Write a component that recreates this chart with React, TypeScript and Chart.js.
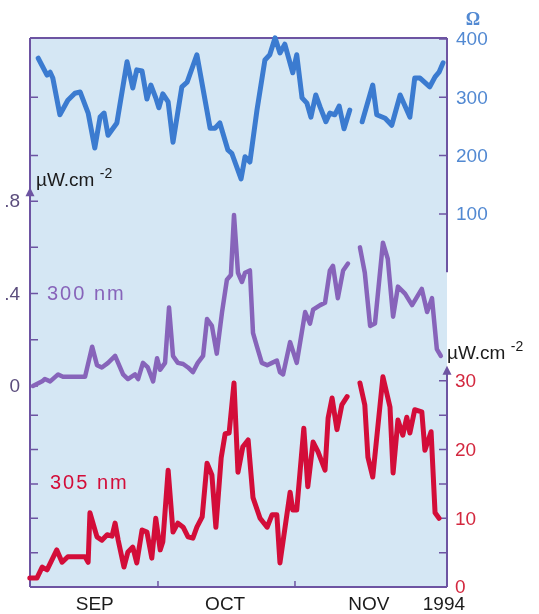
import React, { useEffect, useRef } from 'react';
import { Chart, registerables } from 'chart.js';

Chart.register(...registerables);

// x = day counted from 31 Aug (1 = 1 Sep, 31 = 1 Oct, 62 = 1 Nov)
const monthLabels = ['SEP', 'OCT', 'NOV', '1994'];
const monthLabelDays = [16.7, 46.2, 78.7, 95.7];
const monthTickDays = [31, 62];

// Total ozone (Dobson units)
const ozoneDays = [3.9, 5.9, 6.6, 7.2, 8.8, 10.6, 12.2, 13.4, 15.2, 16.7, 17.9, 18.8, 19.7, 21.7, 24.0, 25.3, 26.2, 27.4, 28.5, 29.4, 30.5, 31.2, 32.1, 33.3, 34.4, 36.4, 37.6, 39.8, 42.8, 43.9, 45.0, 46.8, 47.7, 49.8, 50.7, 51.8, 53.4, 55.2, 56.3, 57.5, 58.6, 59.7, 61.5, 62.4, 63.6, 64.7, 65.6, 66.7, 67.7, 69.0, 69.9, 71.0, 72.0, 73.1, 74.4, 75.8, 77.2, 79.6, 80.5, 82.4, 83.9, 85.8, 88.0, 89.1, 90.3, 92.5, 93.7, 94.6, 95.5];
const ozoneDU = [367, 338, 343, 333, 270, 295, 307, 309, 273, 213, 266, 273, 235, 256, 361, 316, 347, 345, 297, 321, 299, 282, 306, 292, 223, 318, 326, 373, 247, 247, 256, 210, 204, 160, 198, 189, 278, 364, 373, 402, 376, 391, 342, 373, 299, 290, 266, 304, 283, 258, 273, 270, 285, 246, 278, null, 258, 321, 270, 264, 252, 304, 266, 333, 333, 318, 335, 343, 359];

// UV irradiance at 300 nm (µW.cm-2)
const uv300Days = [2.7, 4.8, 5.4, 6.6, 8.4, 9.5, 14.5, 16.1, 17.2, 18.3, 19.7, 21.3, 23.1, 24.2, 25.8, 26.5, 27.6, 28.7, 29.9, 30.8, 31.5, 32.6, 33.5, 34.4, 35.5, 36.7, 37.8, 38.9, 40.0, 41.2, 42.1, 43.2, 44.3, 45.5, 46.6, 47.5, 48.2, 49.1, 50.0, 50.7, 51.8, 52.5, 53.4, 54.5, 55.7, 56.8, 57.9, 58.6, 59.3, 60.9, 62.4, 64.3, 65.4, 66.1, 67.7, 68.8, 69.9, 70.6, 71.7, 72.9, 74.0, 75.4, 76.7, 77.8, 79.0, 80.1, 81.9, 83.0, 84.2, 85.3, 86.9, 88.5, 90.7, 91.9, 93.0, 94.1, 95.0];
const uv300 = [0.0, 0.02, 0.03, 0.02, 0.05, 0.04, 0.04, 0.17, 0.09, 0.08, 0.1, 0.13, 0.05, 0.03, 0.05, 0.03, 0.1, 0.08, 0.02, 0.12, 0.07, 0.1, 0.34, 0.13, 0.1, 0.095, 0.08, 0.06, 0.1, 0.13, 0.29, 0.26, 0.14, 0.32, 0.46, 0.48, 0.74, 0.49, 0.45, 0.49, 0.5, 0.23, 0.17, 0.1, 0.09, 0.1, 0.11, 0.06, 0.05, 0.19, 0.1, 0.32, 0.27, 0.33, 0.35, 0.36, 0.5, 0.52, 0.38, 0.5, 0.53, null, 0.6, 0.49, 0.26, 0.27, 0.62, 0.55, 0.3, 0.43, 0.4, 0.35, 0.42, 0.32, 0.38, 0.16, 0.13];

// UV irradiance at 305 nm (µW.cm-2)
const uv305Days = [2.0, 3.6, 4.8, 5.9, 8.1, 9.3, 10.6, 14.5, 15.2, 15.6, 17.2, 18.3, 19.5, 20.6, 21.3, 22.0, 23.3, 24.2, 25.3, 26.2, 27.4, 28.5, 29.6, 30.5, 31.5, 32.1, 33.3, 34.4, 35.5, 36.7, 37.8, 38.9, 39.8, 41.0, 42.1, 43.2, 44.1, 45.3, 46.2, 47.1, 48.2, 49.1, 50.2, 51.4, 52.5, 54.1, 55.7, 56.8, 57.9, 58.6, 60.9, 61.5, 62.4, 64.0, 64.9, 66.1, 67.2, 68.8, 69.5, 70.4, 71.5, 72.6, 73.8, 75.2, 76.7, 77.8, 78.5, 79.6, 81.9, 83.5, 84.2, 85.3, 86.4, 87.3, 88.0, 89.1, 90.7, 91.4, 92.8, 93.7, 94.6];
const uv305 = [1.3, 1.3, 2.9, 2.5, 5.4, 3.6, 4.4, 4.4, 3.6, 10.8, 7.3, 6.8, 7.6, 7.4, 9.3, 6.8, 2.9, 5.1, 5.8, 3.5, 8.3, 8.0, 4.2, 10.0, 5.4, 6.6, 17.0, 8.0, 9.3, 8.7, 7.3, 7.1, 8.7, 10.2, 18.0, 16.3, 8.7, 18.8, 22.3, 22.4, 29.7, 16.7, 20.4, 21.4, 13.0, 10.0, 8.7, 10.5, 10.5, 3.5, 13.8, 11.2, 11.2, 23.1, 14.6, 21.1, 19.7, 17.0, 24.6, 27.5, 22.9, 26.5, 27.7, null, 29.7, 26.5, 18.9, 16.0, 30.6, 26.2, 16.6, 24.3, 22.1, 24.7, 22.4, 25.8, 25.5, 19.9, 22.6, 10.8, 10.0];

// Axis ticks
const ozoneTicks = [100, 200, 300, 400];
const ozoneTickLabels = ['100', '200', '300', '400'];
const ozoneLeftTicks = [200, 300];
const uv300Ticks = [0, 0.2, 0.4, 0.6, 0.8];
const uv300LabelTicks = [0, 0.4, 0.8];
const uv300TickLabels = ['0', '.4', '.8'];
const uv305Ticks = [5, 10, 15, 20, 25, 30];
const uv305LabelTicks = [0, 10, 20, 30];
const uv305TickLabels = ['0', '10', '20', '30'];

const BG = '#d5e7f4';
const AXIS = '#6d54a2';
const OZ = '#3b7bd0';
const P300 = '#8764ba';
const R305 = '#d30d39';
const OZ_TEXT = '#5289d2';
const R_TEXT = '#d3283f';
const L_TEXT = '#5b4d7d';
const TEXT = '#1b1b1b';
const FONT = '"Liberation Sans", Arial, sans-serif';

const zip = (xs: number[], ys: (number | null)[]) => xs.map((x, i) => ({ x, y: ys[i] }));

const decorations = {
  id: 'decorations',
  beforeDatasetsDraw(chart: any) {
    const { ctx, chartArea: a, scales } = chart;
    const { x, yO, yP, yR } = scales;
    ctx.save();
    ctx.fillStyle = BG;
    ctx.fillRect(a.left, a.top, a.right - a.left, a.bottom - a.top);

    const tipL = yP.getPixelForValue(0.86);
    const tipR = yR.getPixelForValue(32.2);

    ctx.strokeStyle = AXIS;
    ctx.lineWidth = 2;
    ctx.beginPath();
    ctx.moveTo(a.left, a.top);
    ctx.lineTo(a.right, a.top);
    ctx.moveTo(a.left, a.bottom);
    ctx.lineTo(a.right, a.bottom);
    ctx.moveTo(a.left, a.top);
    ctx.lineTo(a.left, a.bottom);
    ctx.moveTo(a.right, a.top);
    ctx.lineTo(a.right, yO.getPixelForValue(0));
    ctx.moveTo(a.right, tipR + 4);
    ctx.lineTo(a.right, a.bottom);
    ctx.stroke();

    const TL = 8;
    ctx.lineWidth = 1.5;
    ctx.beginPath();
    const hTick = (px: number, py: number, dx: number) => {
      ctx.moveTo(px, py);
      ctx.lineTo(px + dx, py);
    };
    ozoneTicks.forEach((v) => hTick(a.right, yO.getPixelForValue(v), -TL));
    ozoneLeftTicks.forEach((v) => hTick(a.left, yO.getPixelForValue(v), TL));
    uv300Ticks.forEach((v) => hTick(a.left, yP.getPixelForValue(v), TL));
    uv305Ticks.forEach((v) => hTick(a.right, yR.getPixelForValue(v), -TL));
    uv305Ticks.filter((v) => v < 30).forEach((v) => hTick(a.left, yR.getPixelForValue(v), TL));
    monthTickDays.forEach((d) => {
      const px = x.getPixelForValue(d);
      ctx.moveTo(px, a.bottom);
      ctx.lineTo(px, a.bottom - 6);
    });
    ctx.stroke();

    // arrow heads
    ctx.fillStyle = AXIS;
    const arrow = (px: number, py: number) => {
      ctx.beginPath();
      ctx.moveTo(px, py);
      ctx.lineTo(px - 4.5, py + 9);
      ctx.lineTo(px + 4.5, py + 9);
      ctx.closePath();
      ctx.fill();
    };
    arrow(a.left, tipL);
    arrow(a.right, tipR);
    ctx.restore();
  },
  afterDraw(chart: any) {
    const { ctx, chartArea: a, scales } = chart;
    const { x, yO, yP, yR } = scales;
    ctx.save();
    ctx.textBaseline = 'middle';
    ctx.font = `19px ${FONT}`;

    // right ozone labels
    ctx.textAlign = 'left';
    ctx.fillStyle = OZ_TEXT;
    ozoneTicks.forEach((v, i) => ctx.fillText(ozoneTickLabels[i], a.right + 9, yO.getPixelForValue(v) + 1));
    // right 305 labels
    ctx.fillStyle = R_TEXT;
    uv305LabelTicks.forEach((v, i) => ctx.fillText(uv305TickLabels[i], a.right + 8, yR.getPixelForValue(v) + 1));
    // left 300 labels
    ctx.textAlign = 'right';
    ctx.fillStyle = L_TEXT;
    uv300LabelTicks.forEach((v, i) => ctx.fillText(uv300TickLabels[i], a.left - 10, yP.getPixelForValue(v) + 1));

    // month labels
    ctx.textAlign = 'center';
    ctx.fillStyle = TEXT;
    monthLabels.forEach((t, i) => ctx.fillText(t, x.getPixelForValue(monthLabelDays[i]), a.bottom + 18));

    // Omega
    ctx.fillStyle = OZ_TEXT;
    ctx.font = `bold 18px "Liberation Serif", "DejaVu Serif", serif`;
    ctx.fillText('Ω', a.right + 26, a.top - 18);

    // units
    const unit = (px: number, py: number) => {
      ctx.textAlign = 'left';
      ctx.fillStyle = TEXT;
      ctx.font = `19px ${FONT}`;
      ctx.fillText('µW.cm', px, py);
      const w = ctx.measureText('µW.cm ').width;
      ctx.font = `14px ${FONT}`;
      ctx.fillText('-2', px + w, py - 6);
    };
    unit(a.left + 6, yP.getPixelForValue(0.89));
    unit(a.right, yP.getPixelForValue(0.14));

    // series names
    ctx.textAlign = 'left';
    ctx.font = `20px ${FONT}`;
    (ctx as any).letterSpacing = '2px';
    ctx.fillStyle = P300;
    ctx.fillText('300 nm', a.left + 17, yP.getPixelForValue(0.395));
    ctx.fillStyle = R305;
    ctx.fillText('305 nm', a.left + 20, yR.getPixelForValue(15.1));
    ctx.restore();
  },
};

export default function App() {
  const ref = useRef<HTMLCanvasElement | null>(null);
  useEffect(() => {
    if (!ref.current) return;
    const chart = new Chart(ref.current, {
      type: 'line',
      data: {
        datasets: [
          { label: 'Ozone', data: zip(ozoneDays, ozoneDU), yAxisID: 'yO', borderColor: OZ, borderWidth: 5 },
          { label: '300 nm', data: zip(uv300Days, uv300), yAxisID: 'yP', borderColor: P300, borderWidth: 4.5 },
          { label: '305 nm', data: zip(uv305Days, uv305), yAxisID: 'yR', borderColor: R305, borderWidth: 5 },
        ] as any,
      },
      options: {
        animation: false,
        responsive: false,
        maintainAspectRatio: false,
        spanGaps: false,
        layout: { padding: { left: 30, top: 38, right: 92, bottom: 27 } },
        elements: {
          point: { radius: 0, hoverRadius: 0 },
          line: { tension: 0, borderJoinStyle: 'round', borderCapStyle: 'round', fill: false },
        },
        datasets: { line: { clip: false } } as any,
        plugins: { legend: { display: false }, tooltip: { enabled: false } },
        events: [],
        scales: {
          x: { type: 'linear', display: false, min: 2.04, max: 96.4 },
          yO: { type: 'linear', display: false, min: -540, max: 401.7 },
          yP: { type: 'linear', display: false, min: -0.87, max: 1.506 },
          yR: { type: 'linear', display: false, min: 0, max: 79.9 },
        },
      },
      plugins: [decorations],
    });
    return () => chart.destroy();
  }, []);
  return (
    <div style={{ position: 'absolute', left: 0, top: 0, width: 539, height: 614 }}>
      <canvas ref={ref} width={539} height={614} style={{ display: 'block' }} />
    </div>
  );
}
